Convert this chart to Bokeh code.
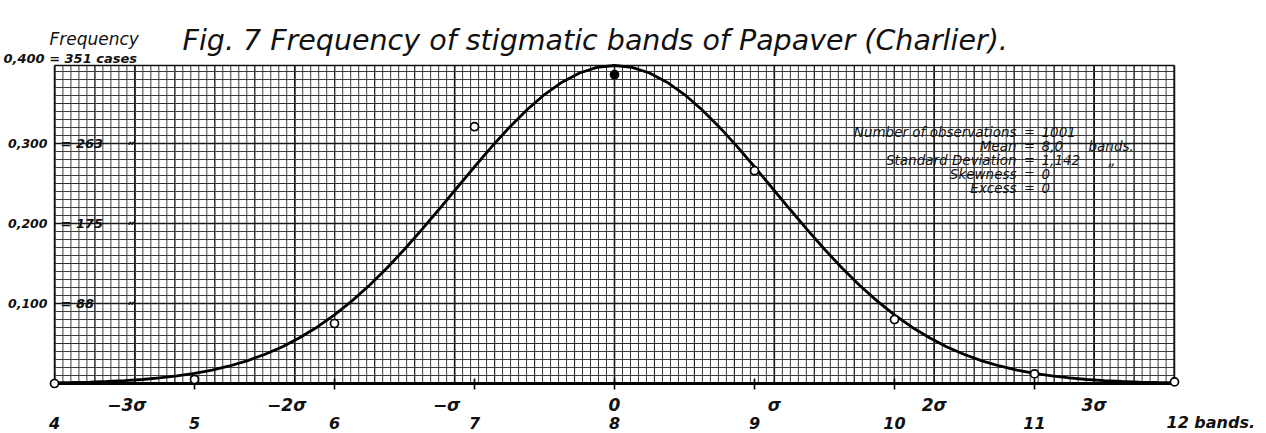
from bokeh.plotting import figure
from bokeh.models import Label, Range1d
from bokeh.embed import file_html
from bokeh.resources import INLINE

# ---- data -------------------------------------------------------------
bands = [4, 5, 6, 7, 8, 9, 10, 11, 12]
observed = [0.000, 0.005, 0.075, 0.321, 0.386, 0.266, 0.080, 0.012, 0.002]
band_labels = ["4", "5", "6", "7", "8", "9", "10", "11", "12 bands."]

# fitted normal curve, sampled every eighth of a band
curve_x = [4 + i / 8 for i in range(65)]
curve_y = [0.0009, 0.0013, 0.0018, 0.0026, 0.0036, 0.0050, 0.0069, 0.0094,
           0.0126, 0.0167, 0.0219, 0.0283, 0.0362, 0.0457, 0.0571, 0.0704,
           0.0858, 0.1033, 0.1229, 0.1444, 0.1678, 0.1926, 0.2184, 0.2447,
           0.2709, 0.2964, 0.3204, 0.3422, 0.3612, 0.3766, 0.3881, 0.3951,
           0.3975,
           0.3951, 0.3881, 0.3766, 0.3612, 0.3422, 0.3204, 0.2964, 0.2709,
           0.2447, 0.2184, 0.1926, 0.1678, 0.1444, 0.1229, 0.1033, 0.0858,
           0.0704, 0.0571, 0.0457, 0.0362, 0.0283, 0.0219, 0.0167, 0.0126,
           0.0094, 0.0069, 0.0050, 0.0036, 0.0026, 0.0018, 0.0013, 0.0009]

freq_ticks = [0.100, 0.200, 0.300]
freq_tick_labels = ["0,100", "0,200", "0,300"]
case_labels = ["= 88", "= 175", "= 263"]

n_obs = 1001
mean = 8.0
sd = 1.142
sigma_steps = [-3, -2, -1, 0, 1, 2, 3]
sigma_labels = ["\u22123\u03c3", "\u22122\u03c3", "\u2212\u03c3", "0",
                "\u03c3", "2\u03c3", "3\u03c3"]

# ---- page geometry ------------------------------------------------------
W, H = 1266, 433
PAPER_L, PAPER_B, PAPER_T = 54, 383, 65      # pixel edges of the graph paper
X0, X1 = 4, 12
PX_PER_BAND = 140.0
PX_PER_UNIT = 800.0


def dx(px):
    """page x pixel -> band units"""
    return X0 + (px - PAPER_L) / PX_PER_BAND


def dy(py):
    """page y pixel (from top) -> frequency units"""
    return (PAPER_B - py) / PX_PER_UNIT


Y_TOP = dy(PAPER_T)

p = figure(width=W, height=H, output_backend="svg", toolbar_location=None,
           x_range=Range1d(dx(0), dx(W)), y_range=Range1d(dy(H), dy(0)),
           min_border=0)
p.axis.visible = False
p.grid.visible = False
p.outline_line_color = None
p.background_fill_color = "white"
p.border_fill_color = "white"

# ---- graph paper --------------------------------------------------------
fine_x = [mean + k * sd / 20 for k in range(-70, 71)]
mid_x = [mean + k * sd / 4 for k in range(-14, 15)]
bold_x = [mean + k * sd for k in sigma_steps]
fine_y = [k / 100 for k in range(1, 40) if k / 100 < Y_TOP]
mid_y = [0.05, 0.15, 0.25, 0.35]
bold_y = freq_ticks

for xs, color, width in [(fine_x, "#3c3c3c", 1.0), (mid_x, "#2a2a2a", 1.1),
                         (bold_x, "#151515", 1.5)]:
    p.segment(x0=xs, y0=[0] * len(xs), x1=xs, y1=[Y_TOP] * len(xs),
              line_color=color, line_width=width)
for ys, color, width in [(fine_y, "#3c3c3c", 1.0), (mid_y, "#2a2a2a", 1.1),
                         (bold_y, "#151515", 1.5)]:
    p.segment(x0=[X0] * len(ys), y0=ys, x1=[X1] * len(ys), y1=ys,
              line_color=color, line_width=width)

# paper border and the base line
p.segment(x0=[X0, X0, X1], y0=[0, Y_TOP, 0], x1=[X0, X1, X1],
          y1=[Y_TOP, Y_TOP, Y_TOP], line_color="#111111", line_width=1.5)
p.segment(x0=[X0], y0=[0], x1=[X1], y1=[0], line_color="black", line_width=2.8)

# short ticks across the base line at each band
tb = bands[1:-1]
p.segment(x0=tb, y0=[dy(PAPER_B + 6)] * len(tb), x1=tb,
          y1=[dy(PAPER_B - 5)] * len(tb), line_color="black", line_width=1.6)

# ---- curve and observations ---------------------------------------------
p.line(curve_x, curve_y, line_color="black", line_width=2.8)
fills = ["black" if b == mean else "white" for b in bands]
p.scatter(bands, observed, marker="circle", size=8, fill_color=fills,
          line_color="black", line_width=1.7)

# ---- lettering -----------------------------------------------------------
FONT = "DejaVu Sans"


def lab(text, x, y, size, align="left", baseline="middle", style="italic",
        x_offset=0):
    p.add_layout(Label(text=text, x=x, y=y, x_offset=x_offset,
                       text_font=FONT, text_font_style=style,
                       text_font_size=f"{size}px", text_color="#111111",
                       text_align=align, text_baseline=baseline))


lab("Fig. 7   Frequency of stigmatic bands of Papaver (Charlier).",
    dx(182), dy(40), 28.5, baseline="alphabetic")
lab("Frequency", dx(49), dy(38), 17)
lab("0,400 = 351 cases", dx(3), dy(58), 13, style="bold italic")

for t, tl, cl in zip(freq_ticks, freq_tick_labels, case_labels):
    lab(tl, dx(47), t, 12.5, align="right", style="bold italic")
    lab(cl, dx(60), t, 13, style="bold italic")
    lab("\u201e", dx(128), t + 0.004, 11, style="bold italic")

for k, s in zip(sigma_steps, sigma_labels):
    lab(s, mean + k * sd, dy(404), 17, align="center", style="bold italic",
        x_offset=(-8 if k < 0 else 0))

for b, s in zip(bands, band_labels):
    if b == X1:
        lab(s, b, dy(422), 16, align="left", style="bold italic", x_offset=-8)
    else:
        lab(s, b, dy(422), 16, align="center", style="bold italic")

# summary statistics block
stat_names = ["Number of observations", "Mean", "Standard Deviation",
              "Skewness", "Excess"]
stat_values = [str(n_obs), f"{mean:.1f}".replace(".", ","),
               f"{sd:.3f}".replace(".", ","), "0", "0"]
stat_units = ["", "bands.", "\u201e", "", ""]
stat_rows = [131, 145, 159, 173, 187]
for name, val, unit, row in zip(stat_names, stat_values, stat_units, stat_rows):
    lab(name, dx(1016), dy(row), 13.5, align="right")
    lab("=", dx(1029), dy(row), 13, align="center")
    lab(val, dx(1041), dy(row), 13.5)
    if unit:
        lab(unit, dx(1088 if unit == "bands." else 1108), dy(row), 13.5)

open("out.html", "w").write(file_html(p, INLINE))
